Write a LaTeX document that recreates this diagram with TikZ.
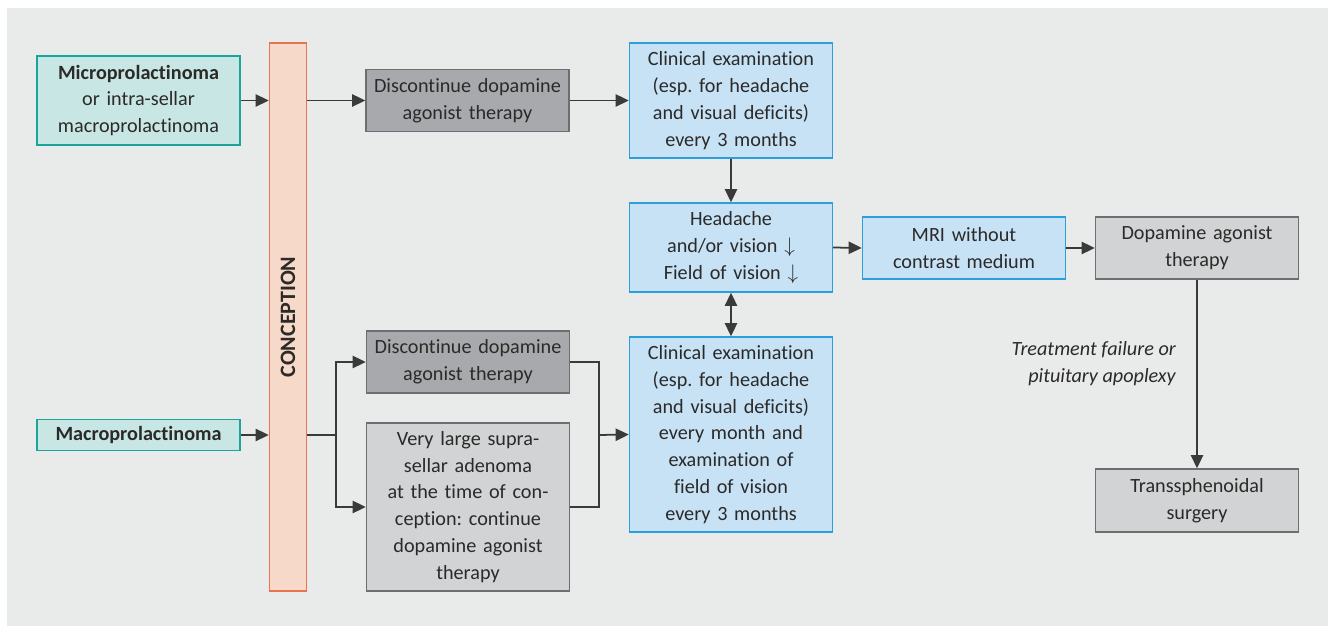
\documentclass[tikz,border=0pt]{standalone}
\usepackage{fontspec}
\setmainfont{Carlito}[Ligatures=NoCommon]
\usepackage{xcolor}
\usetikzlibrary{arrows.meta, positioning, calc}
\frenchspacing

\definecolor{bgcol}{HTML}{E9EBEA}
\definecolor{linecol}{HTML}{3A3A3A}
\definecolor{txtcol}{HTML}{2B2A29}
\definecolor{tealfill}{HTML}{C8E6E3}
\definecolor{tealline}{HTML}{1AA59A}
\definecolor{barfill}{HTML}{F7D9C9}
\definecolor{barline}{HTML}{E8734F}
\definecolor{darkfill}{HTML}{A7A9AC}
\definecolor{lightfill}{HTML}{D1D3D4}
\definecolor{greyline}{HTML}{6D6E71}
\definecolor{bluefill}{HTML}{C7E2F5}
\definecolor{blueline}{HTML}{2A9FDB}

\begin{document}
\begin{tikzpicture}[x=0.02cm, y=-0.02cm,
        font=\fontsize{11.5}{15.3}\selectfont, text=txtcol,
        box/.style={draw, line width=0.85pt, align=center, inner sep=0pt,
                minimum width=4.06cm, text width=3.9cm},
        tumor/.style={box, fill=tealfill, draw=tealline},
        stopbox/.style={box, fill=darkfill, draw=greyline},
        therapy/.style={box, fill=lightfill, draw=greyline},
        exam/.style={box, fill=bluefill, draw=blueline},
        arr/.style={draw=linecol, line width=1pt, -{Triangle[length=7.5pt,width=7pt]}},
        con/.style={draw=linecol, line width=1pt}]
        \useasboundingbox (0,0) rectangle (1335,634);
        \fill[bgcol] (7,8) rectangle (1328,626);

        % Left column
        \node[tumor, minimum height=1.78cm] (micro) at (138.5,100.5)
                {\textbf{Microprolactinoma}\\or intra-sellar\\macroprolactinoma};
        \node[tumor, minimum height=0.62cm] (macro) at (138.5,435) {\textbf{Macroprolactinoma}};
        \node[draw=barline, fill=barfill, line width=0.85pt, minimum width=0.74cm,
                minimum height=10.96cm] (conc) at (288,317) {};
        \node[rotate=90, font=\fontsize{12.5}{15}\selectfont\bfseries] (conctxt) at (conc.center) {CONCEPTION};

        % Upper branch
        \node[stopbox, minimum height=1.24cm] (stoptop) at (467.5,100.5) {Discontinue dopamine\\agonist therapy};
        \node[exam, minimum height=2.3cm] (examtop) at (731,100.5)
                {Clinical examination\\(esp. for headache\\and visual deficits)\\every 3 months};

        % Lower branch
        \node[stopbox, minimum height=1.24cm] (stopbot) at (468,362) {Discontinue dopamine\\agonist therapy};
        \node[therapy, minimum height=3.36cm] (keep) at (468,507)
                {Very large supra-\\sellar adenoma\\at the time of con-\\ception: continue\\dopamine agonist\\therapy};
        \node[exam, minimum height=3.9cm] (exambot) at (731,434.5)
                {Clinical examination\\(esp. for headache\\and visual deficits)\\every month and\\examination of\\field of vision\\every 3 months};

        % Middle row
        \node[exam, minimum height=1.78cm] (symp) at (731,247.5) {Headache\\and/or vision $\downarrow$\\Field of vision $\downarrow$};
        \node[exam, minimum height=1.24cm] (mri) at (964,248) {MRI without\\contrast medium};
        \node[therapy, minimum height=1.24cm] (dat) at (1197,248) {Dopamine agonist\\therapy};
        \node[therapy, minimum height=1.26cm] (surg) at (1197,500.5) {Transsphenoidal\\surgery};
        \node[anchor=east, align=right, font=\fontsize{11.5}{15.3}\selectfont\itshape] (fail) at (1182,364)
                {Treatment failure or\\pituitary apoplexy};

        \coordinate (split) at (336,435);
        \coordinate (merge) at (599,435);

        % Connectors
        \draw[arr] (micro.east) -- (micro.east -| conc.west);
        \draw[arr] (conc.east |- stoptop.west) -- (stoptop.west);
        \draw[arr] (stoptop.east) -- (examtop.west);
        \draw[arr] (examtop.south) -- (symp.north);
        \draw[arr, {Triangle[length=7.5pt,width=7pt]}-{Triangle[length=7.5pt,width=7pt]}] (symp.south) -- (exambot.north);
        \draw[arr] (symp.east) -- (mri.west);
        \draw[arr] (mri.east) -- (dat.west);
        \draw[arr] (dat.south) -- (surg.north);

        \draw[arr] (macro.east) -- (macro.east -| conc.west);
        \draw[con] (conc.east |- split) -- (split);
        \draw[arr] (split) |- (stopbot.west);
        \draw[arr] (split) |- (keep.west);
        \draw[con] (stopbot.east) -| (merge) |- (keep.east);
        \draw[arr] (merge) -- (exambot.west);
\end{tikzpicture}
\end{document}
